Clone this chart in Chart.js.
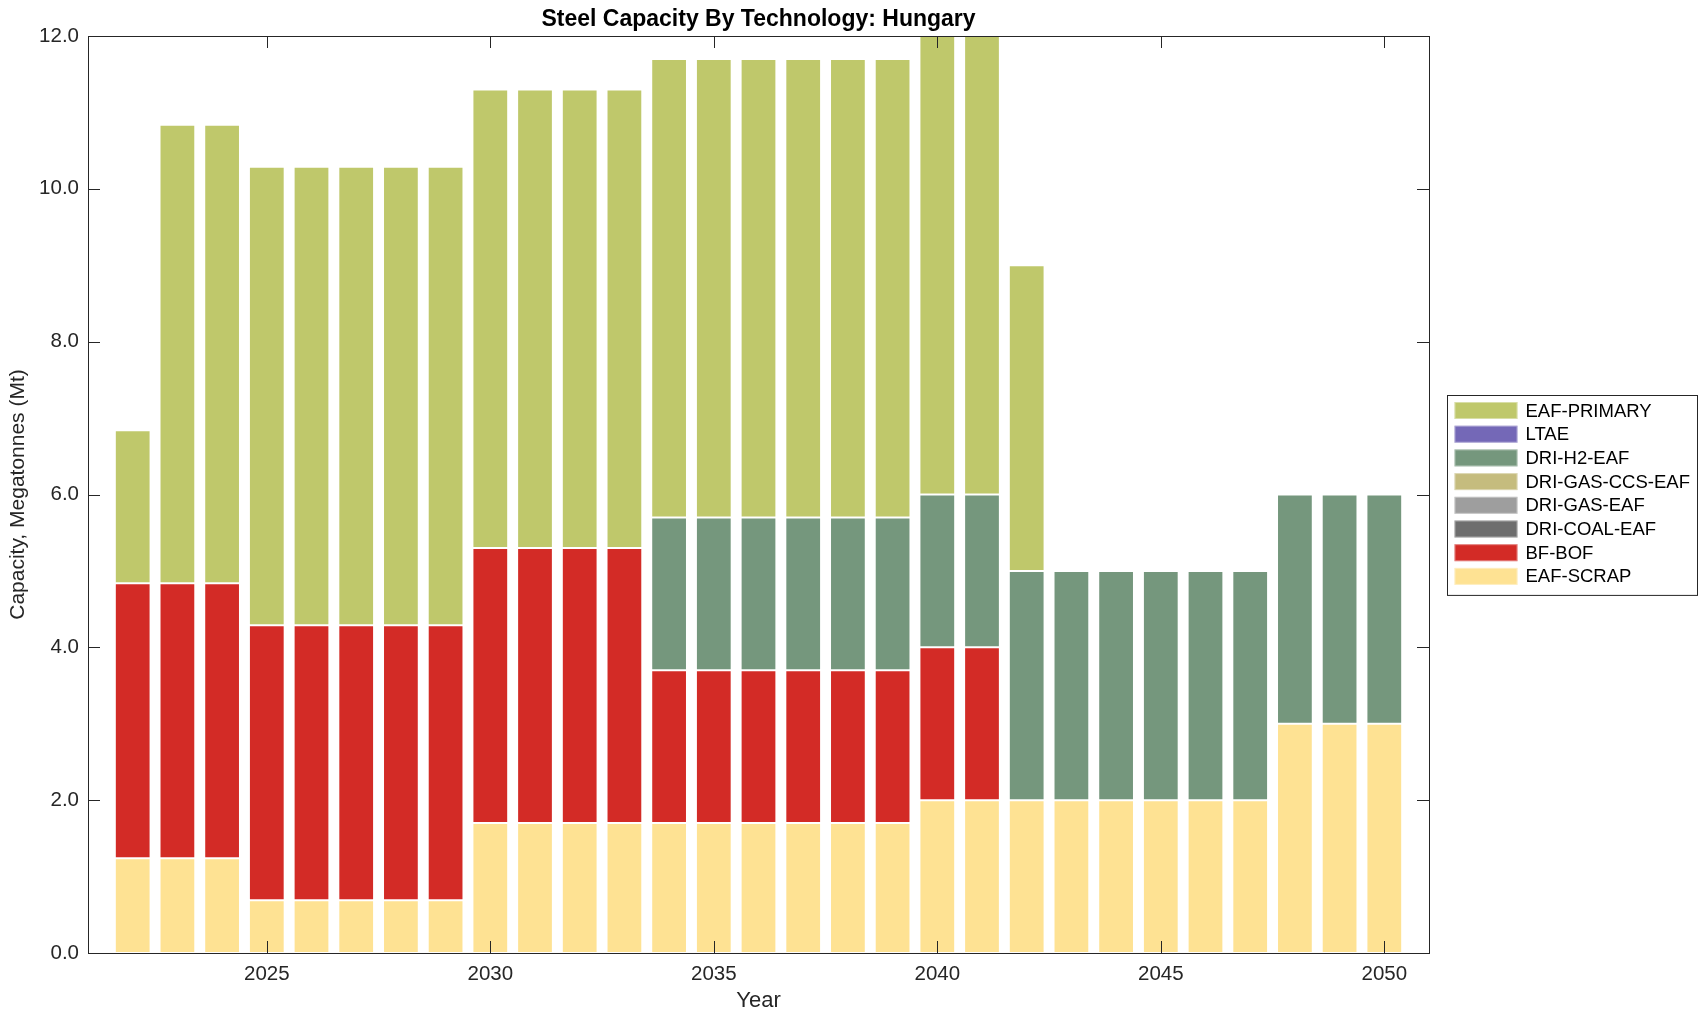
<!DOCTYPE html>
<html>
<head>
<meta charset="utf-8">
<title>Steel Capacity By Technology: Hungary</title>
<script src="https://cdn.jsdelivr.net/npm/chart.js@4.4.0/dist/chart.umd.min.js"></script>
<style>
  html, body { margin: 0; padding: 0; background: #ffffff; }
  #wrap { width: 1708px; height: 1021px; position: relative; }
</style>
</head>
<body>
<div id="wrap"><canvas id="chart"></canvas></div>
<script>
// ---- Data ----
const years = [2022, 2023, 2024, 2025, 2026, 2027, 2028, 2029, 2030, 2031, 2032, 2033, 2034, 2035, 2036, 2037, 2038, 2039, 2040, 2041, 2042, 2043, 2044, 2045, 2046, 2047, 2048, 2049, 2050];

const eafScrap   = [1.24, 1.24, 1.24, 0.69, 0.69, 0.69, 0.69, 0.69, 1.7, 1.7, 1.7, 1.7, 1.7, 1.7, 1.7, 1.7, 1.7, 1.7, 2.0, 2.0, 2.0, 2.0, 2.0, 2.0, 2.0, 2.0, 3.0, 3.0, 3.0];
const bfBof      = [3.6, 3.6, 3.6, 3.6, 3.6, 3.6, 3.6, 3.6, 3.6, 3.6, 3.6, 3.6, 2.0, 2.0, 2.0, 2.0, 2.0, 2.0, 2.0, 2.0, 0, 0, 0, 0, 0, 0, 0, 0, 0];
const driCoalEaf = [0, 0, 0, 0, 0, 0, 0, 0, 0, 0, 0, 0, 0, 0, 0, 0, 0, 0, 0, 0, 0, 0, 0, 0, 0, 0, 0, 0, 0];
const driGasEaf  = [0, 0, 0, 0, 0, 0, 0, 0, 0, 0, 0, 0, 0, 0, 0, 0, 0, 0, 0, 0, 0, 0, 0, 0, 0, 0, 0, 0, 0];
const driGasCcsEaf = [0, 0, 0, 0, 0, 0, 0, 0, 0, 0, 0, 0, 0, 0, 0, 0, 0, 0, 0, 0, 0, 0, 0, 0, 0, 0, 0, 0, 0];
const driH2Eaf   = [0, 0, 0, 0, 0, 0, 0, 0, 0, 0, 0, 0, 2.0, 2.0, 2.0, 2.0, 2.0, 2.0, 2.0, 2.0, 3.0, 3.0, 3.0, 3.0, 3.0, 3.0, 3.0, 3.0, 3.0];
const ltae       = [0, 0, 0, 0, 0, 0, 0, 0, 0, 0, 0, 0, 0, 0, 0, 0, 0, 0, 0, 0, 0, 0, 0, 0, 0, 0, 0, 0, 0];
const eafPrimary = [2.0, 6.0, 6.0, 6.0, 6.0, 6.0, 6.0, 6.0, 6.0, 6.0, 6.0, 6.0, 6.0, 6.0, 6.0, 6.0, 6.0, 6.0, 6.0, 6.0, 4.0, 0, 0, 0, 0, 0, 0, 0, 0];

const yTicks = [0, 2, 4, 6, 8, 10, 12];
const xTicks = [2025, 2030, 2035, 2040, 2045, 2050];

const techNames  = ['EAF-SCRAP', 'BF-BOF', 'DRI-COAL-EAF', 'DRI-GAS-EAF', 'DRI-GAS-CCS-EAF', 'DRI-H2-EAF', 'LTAE', 'EAF-PRIMARY'];
const techSeries = [eafScrap, bfBof, driCoalEaf, driGasEaf, driGasCcsEaf, driH2Eaf, ltae, eafPrimary];
const techColors = ['#FEE293', '#D32B26', '#6E6E6E', '#9E9E9E', '#C5BC7E', '#75977D', '#7468B7', '#BFC86B'];

const FONT = '"Liberation Sans", Arial, Helvetica, sans-serif';
const INK = '#262626';

const datasets = techNames.map((name, i) => ({
  label: name,
  data: years.map((yr, j) => ({ x: yr, y: techSeries[i][j] })),
  backgroundColor: techColors[i],
  borderColor: 'rgba(255,255,255,0.18)',
  borderWidth: 1,
  borderSkipped: false,
  barPercentage: 0.8,
  categoryPercentage: 1.0
}));

// Box + inward ticks (MATLAB style)
const boxTicks = {
  id: 'boxTicks',
  afterDatasetsDraw(chart) {
    const { ctx, chartArea: a, scales } = chart;
    const L = 12;
    ctx.save();
    ctx.strokeStyle = INK;
    ctx.lineWidth = 1;
    ctx.beginPath();
    scales.x.ticks.forEach(t => {
      const px = Math.round(scales.x.getPixelForValue(t.value)) + 0.5;
      ctx.moveTo(px, a.bottom); ctx.lineTo(px, a.bottom - L);
      ctx.moveTo(px, a.top); ctx.lineTo(px, a.top + L);
    });
    scales.y.ticks.forEach(t => {
      const py = Math.round(scales.y.getPixelForValue(t.value)) + 0.5;
      ctx.moveTo(a.left, py); ctx.lineTo(a.left + L, py);
      ctx.moveTo(a.right, py); ctx.lineTo(a.right - L, py);
    });
    ctx.stroke();
    ctx.strokeRect(Math.round(a.left) + 0.5, Math.round(a.top) + 0.5, Math.round(a.right - a.left), Math.round(a.bottom - a.top));
    ctx.restore();
  }
};

// Boxed legend to the right of the plot
const boxedLegend = {
  id: 'boxedLegend',
  afterDraw(chart) {
    const { ctx, chartArea: a } = chart;
    const items = chart.data.datasets.map(d => ({ label: d.label, color: d.backgroundColor })).reverse();
    const rowH = 23.7, boxW = 63, boxH = 17, padX = 7, padY = 6.5;
    const width = 250;
    const height = padY * 2 + rowH * items.length - (rowH - boxH) + 4;
    const left = Math.round(a.right + 18) + 0.5;
    const top = Math.round((a.top + a.bottom) / 2 - height / 2) + 0.5;
    ctx.save();
    ctx.fillStyle = '#ffffff';
    ctx.fillRect(left, top, width, height);
    ctx.strokeStyle = INK;
    ctx.lineWidth = 1;
    ctx.strokeRect(left, top, width, height);
    ctx.font = '18.5px ' + FONT;
    ctx.textBaseline = 'middle';
    ctx.textAlign = 'left';
    items.forEach((it, i) => {
      const y = top + padY + i * rowH;
      ctx.fillStyle = it.color;
      ctx.fillRect(left + padX, y, boxW, boxH);
      ctx.strokeStyle = 'rgba(255,255,255,0.4)';
      ctx.strokeRect(left + padX + 0.5, y + 0.5, boxW - 1, boxH - 1);
      ctx.fillStyle = '#000000';
      ctx.fillText(it.label, left + padX + boxW + 8, y + boxH / 2 + 1);
    });
    ctx.restore();
  }
};

new Chart(document.getElementById('chart'), {
  type: 'bar',
  data: { datasets },
  options: {
    responsive: true,
    maintainAspectRatio: false,
    animation: false,
    layout: { padding: { left: 0, right: 279, top: 0, bottom: 0 } },
    plugins: {
      legend: { display: false },
      tooltip: { enabled: false },
      title: {
        display: true,
        text: 'Steel Capacity By Technology: Hungary',
        fullSize: false,
        color: '#000000',
        font: { family: FONT, size: 23, weight: 'bold' },
        padding: { top: 6, bottom: 2.4 }
      }
    },
    scales: {
      x: {
        type: 'linear',
        stacked: true,
        min: 2021,
        max: 2051,
        offset: false,
        grid: { display: false, drawTicks: false },
        border: { display: false },
        afterBuildTicks: axis => { axis.ticks = xTicks.map(v => ({ value: v })); },
        afterFit: s => { s.height = 68; },
        ticks: {
          color: INK,
          font: { family: FONT, size: 20.5 },
          padding: 9,
          maxRotation: 0,
          autoSkip: false,
          callback: v => String(v)
        },
        title: {
          display: true,
          text: 'Year',
          color: INK,
          font: { family: FONT, size: 22 },
          padding: { top: 0, bottom: 7 }
        }
      },
      y: {
        stacked: true,
        min: 0,
        max: 12,
        grid: { display: false, drawTicks: false },
        border: { display: false },
        afterBuildTicks: axis => { axis.ticks = yTicks.map(v => ({ value: v })); },
        afterFit: s => { s.width = 88; },
        ticks: {
          color: INK,
          font: { family: FONT, size: 20.5 },
          padding: 9,
          callback: v => Number(v).toFixed(1)
        },
        title: {
          display: true,
          text: 'Capacity, Megatonnes (Mt)',
          color: INK,
          font: { family: FONT, size: 21 },
          padding: { top: 6, bottom: 0 }
        }
      }
    }
  },
  plugins: [boxTicks, boxedLegend]
});
</script>
</body>
</html>
